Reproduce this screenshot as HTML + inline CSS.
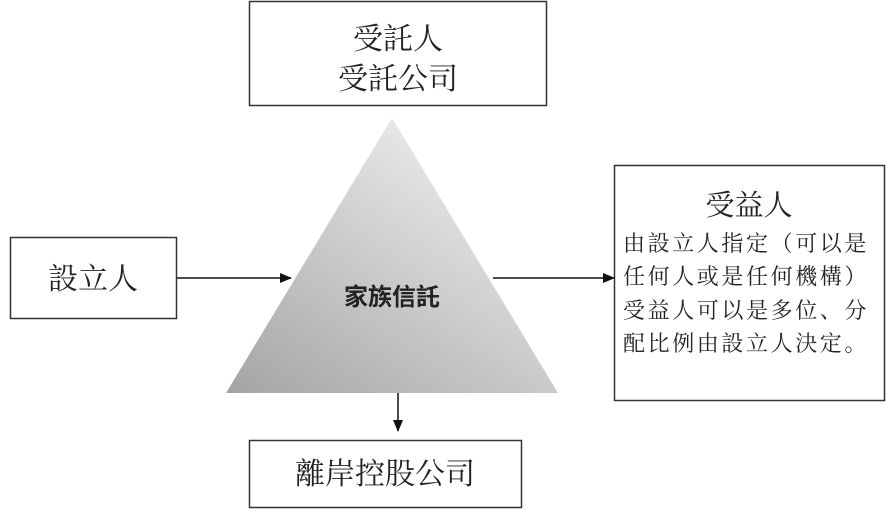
<!DOCTYPE html>
<html><head><meta charset="utf-8"><style>
body{margin:0;width:892px;height:514px;background:#fff;overflow:hidden}
svg{display:block}
.s{font-family:"Liberation Serif","Noto Serif CJK SC",serif;fill:#222}
</style></head><body>
<svg width="892" height="514" viewBox="0 0 892 514">
<defs>
<linearGradient id="g" x1="0" y1="1" x2="0.8" y2="0">
<stop offset="0" stop-color="#a4a4a4"/><stop offset="1" stop-color="#f2f2f2"/>
</linearGradient>
<marker id="a" markerWidth="12" markerHeight="10" refX="11" refY="5" orient="auto" markerUnits="userSpaceOnUse">
<path d="M0,0 L12,5 L0,10 Z" fill="#111"/></marker>
</defs>
<rect x="249.5" y="1.5" width="297" height="104" fill="#fff" stroke="#333" stroke-width="1.5"/>
<text class="s" x="398" y="49" font-size="30" text-anchor="middle">受託人</text>
<text class="s" x="398" y="89" font-size="30" text-anchor="middle">受託公司</text>
<polygon points="392,118 226,393 558,393" fill="url(#g)"/>
<text x="392" y="305" font-size="24" font-weight="bold" text-anchor="middle" style="font-family:'Liberation Sans','Noto Sans CJK TC',sans-serif" fill="#222">家族信託</text>
<rect x="10.5" y="237.5" width="166" height="81" fill="#fff" stroke="#333" stroke-width="1.5"/>
<text class="s" x="93" y="289" font-size="30" text-anchor="middle">設立人</text>
<line x1="177" y1="278" x2="291" y2="278" stroke="#111" stroke-width="1.5" marker-end="url(#a)"/>
<line x1="493" y1="278" x2="614" y2="278" stroke="#111" stroke-width="1.5" marker-end="url(#a)"/>
<line x1="398" y1="393" x2="398" y2="431" stroke="#111" stroke-width="1.5" marker-end="url(#a)"/>
<rect x="614.5" y="165.5" width="270" height="235" fill="#fff" stroke="#333" stroke-width="1.5"/>
<text class="s" x="749" y="215" font-size="29" text-anchor="middle">受益人</text>
<g class="s" font-size="22" letter-spacing="2.6">
<text x="623" y="251">由設立人指定（可以是</text>
<text x="623" y="284">任何人或是任何機構）</text>
<text x="623" y="318">受益人可以是多位、分</text>
<text x="623" y="351">配比例由設立人決定。</text>
</g>
<rect x="249.5" y="440.5" width="272" height="67" fill="#fff" stroke="#333" stroke-width="1.5"/>
<text class="s" x="385" y="484" font-size="30" text-anchor="middle">離岸控股公司</text>
</svg>
</body></html>
